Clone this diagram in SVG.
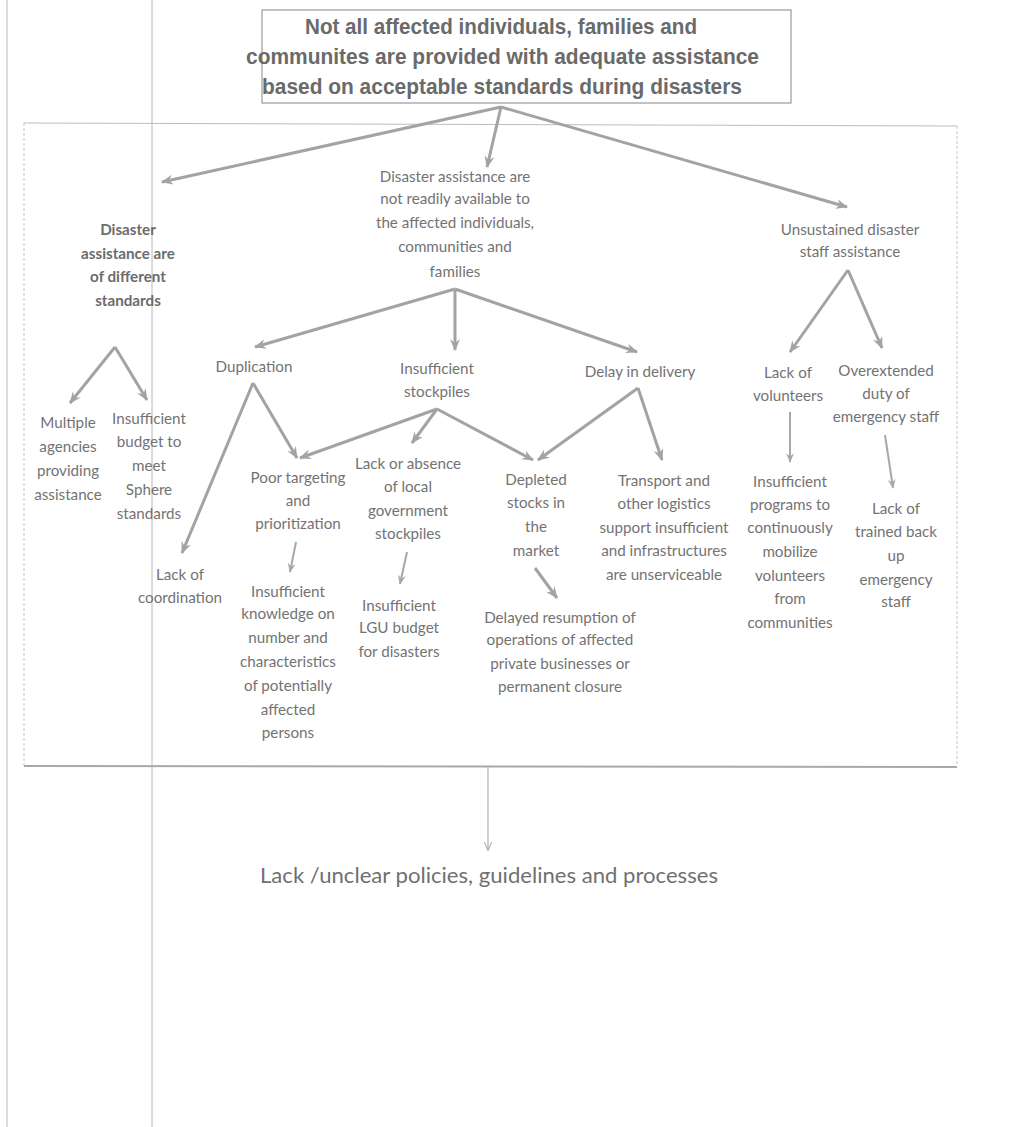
<svg xmlns="http://www.w3.org/2000/svg" width="1019" height="1127" viewBox="0 0 1019 1127">
<defs>
<style>
.t{font-family:Lato,"Liberation Sans",sans-serif;font-size:15.2px;fill:#737373;text-anchor:middle}
.b{font-weight:bold;fill:#6c6c6c}
.title{font-family:"Liberation Sans",Arial,sans-serif;font-size:22px;font-weight:bold;fill:#6a6a6a}
.bot{font-family:Lato,"Liberation Sans",sans-serif;font-size:22px;fill:#707070}
.a{stroke:#a3a3a3;stroke-width:3;fill:none;marker-end:url(#ah)}
.a2{stroke:#a8a8a8;stroke-width:2;fill:none;marker-end:url(#ah2)}
.a1{stroke:#b0b0b0;stroke-width:1.2;fill:none;marker-end:url(#ah3)}
</style>
<marker id="ah" viewBox="0 0 12 10" refX="11" refY="5" markerWidth="12" markerHeight="10" markerUnits="userSpaceOnUse" orient="auto"><path d="M0,0 L12,5 L0,10 L4,5 Z" fill="#a3a3a3"/></marker>
<marker id="ah2" viewBox="0 0 12 10" refX="11" refY="5" markerWidth="10" markerHeight="8" markerUnits="userSpaceOnUse" orient="auto"><path d="M0,0 L12,5 L0,10 L4,5 Z" fill="#a8a8a8"/></marker>
<marker id="ah3" viewBox="0 0 12 10" refX="11" refY="5" markerWidth="9" markerHeight="8" markerUnits="userSpaceOnUse" orient="auto"><path d="M0,0 L12,5 L0,10" fill="none" stroke="#b0b0b0" stroke-width="1.5"/></marker>
</defs>
<rect width="1019" height="1127" fill="#fff"/>
<g id="page-lines" stroke="#b8b8b8" stroke-width="1">
<line x1="7" y1="0" x2="7" y2="1127"/>
<line x1="152" y1="0" x2="152" y2="1127"/>
</g>
<g id="frame">
<path d="M24,123 L957,126" stroke="#bdbdbd" stroke-width="1" fill="none"/>
<path d="M24,123 L24,766" stroke="#c4c4c4" stroke-width="1" stroke-dasharray="3,2" fill="none"/>
<path d="M957,126 L957,766" stroke="#c4c4c4" stroke-width="1" stroke-dasharray="3,2" fill="none"/>
<path d="M24,766 L957,767" stroke="#a8a8a8" stroke-width="2" fill="none"/>
</g>
<g id="connectors">
<path class="a" d="M501,107 L162,182"/>
<path class="a" d="M501,107 L487,167"/>
<path class="a" d="M501,107 L847,207"/>
<path class="a" d="M115,347 L70,403"/>
<path class="a" d="M115,347 L147,400"/>
<path class="a" d="M455,289 L255,347"/>
<path class="a" d="M455,289 L455,350"/>
<path class="a" d="M455,289 L637,352"/>
<path class="a" d="M848,270 L790,352"/>
<path class="a" d="M848,270 L882,348"/>
<path class="a" d="M253,383 L297,458"/>
<path class="a" d="M253,383 L182,553"/>
<path class="a" d="M437,409 L300,458"/>
<path class="a" d="M437,409 L412,443"/>
<path class="a" d="M437,409 L533,460"/>
<path class="a" d="M638,388 L538,460"/>
<path class="a" d="M638,388 L662,460"/>
<path class="a2" d="M296,542 L290,572"/>
<path class="a2" d="M407,552 L400,584"/>
<path class="a" d="M535,568 L557,598"/>
<path class="a2" d="M790,412 L790,462"/>
<path class="a2" d="M885,435 L893,488"/>
<path class="a1" d="M488,767 L488,850"/>
</g>
<g id="n-root">
<rect x="262" y="10" width="529" height="93" fill="none" stroke="#9a9a9a" stroke-width="1.2"/>
<text class="title" x="305" y="34" textLength="392" lengthAdjust="spacingAndGlyphs">Not all affected individuals, families and</text>
<text class="title" x="246" y="64" textLength="513" lengthAdjust="spacingAndGlyphs">communites are provided with adequate assistance</text>
<text class="title" x="262" y="94" textLength="480" lengthAdjust="spacingAndGlyphs">based on acceptable standards during disasters</text>
</g>
<g id="n-standards"><text class="t b"><tspan x="128" y="235">Disaster</tspan><tspan x="128" y="259">assistance are</tspan><tspan x="128" y="282">of different</tspan><tspan x="128" y="306">standards</tspan></text></g>
<g id="n-availability"><text class="t"><tspan x="455" y="182">Disaster assistance  are</tspan><tspan x="455" y="204">not readily available to</tspan><tspan x="455" y="228">the affected individuals,</tspan><tspan x="455" y="252">communities and</tspan><tspan x="455" y="277">families</tspan></text></g>
<g id="n-staff"><text class="t"><tspan x="850" y="235">Unsustained disaster</tspan><tspan x="850" y="257">staff assistance</tspan></text></g>
<g id="n-multiple"><text class="t"><tspan x="68" y="428">Multiple</tspan><tspan x="68" y="452">agencies</tspan><tspan x="68" y="476">providing</tspan><tspan x="68" y="500">assistance</tspan></text></g>
<g id="n-budget"><text class="t"><tspan x="149" y="424">Insufficient</tspan><tspan x="149" y="447">budget to</tspan><tspan x="149" y="471">meet</tspan><tspan x="149" y="495">Sphere</tspan><tspan x="149" y="519">standards</tspan></text></g>
<g id="n-duplication"><text class="t"><tspan x="254" y="372">Duplication</tspan></text></g>
<g id="n-stockpiles"><text class="t"><tspan x="437" y="374">Insufficient</tspan><tspan x="437" y="397">stockpiles</tspan></text></g>
<g id="n-delay"><text class="t"><tspan x="640" y="377">Delay in delivery</tspan></text></g>
<g id="n-volunteers"><text class="t"><tspan x="788" y="378">Lack of</tspan><tspan x="788" y="401">volunteers</tspan></text></g>
<g id="n-overextended"><text class="t"><tspan x="886" y="376">Overextended</tspan><tspan x="886" y="399">duty of</tspan><tspan x="886" y="422">emergency staff</tspan></text></g>
<g id="n-coordination"><text class="t"><tspan x="180" y="580">Lack of</tspan><tspan x="180" y="603">coordination</tspan></text></g>
<g id="n-targeting"><text class="t"><tspan x="298" y="483">Poor targeting</tspan><tspan x="298" y="506">and</tspan><tspan x="298" y="529">prioritization</tspan></text></g>
<g id="n-local"><text class="t"><tspan x="408" y="469">Lack or absence</tspan><tspan x="408" y="492">of local</tspan><tspan x="408" y="516">government</tspan><tspan x="408" y="539">stockpiles</tspan></text></g>
<g id="n-depleted"><text class="t"><tspan x="536" y="485">Depleted</tspan><tspan x="536" y="508">stocks in</tspan><tspan x="536" y="532">the</tspan><tspan x="536" y="556">market</tspan></text></g>
<g id="n-transport"><text class="t"><tspan x="664" y="486">Transport and</tspan><tspan x="664" y="509">other logistics</tspan><tspan x="664" y="533">support insufficient</tspan><tspan x="664" y="556">and infrastructures</tspan><tspan x="664" y="580">are unserviceable</tspan></text></g>
<g id="n-programs"><text class="t"><tspan x="790" y="487">Insufficient</tspan><tspan x="790" y="510">programs to</tspan><tspan x="790" y="533">continuously</tspan><tspan x="790" y="557">mobilize</tspan><tspan x="790" y="581">volunteers</tspan><tspan x="790" y="604">from</tspan><tspan x="790" y="628">communities</tspan></text></g>
<g id="n-backup"><text class="t"><tspan x="896" y="514">Lack of</tspan><tspan x="896" y="537">trained back</tspan><tspan x="896" y="561">up</tspan><tspan x="896" y="585">emergency</tspan><tspan x="896" y="607">staff</tspan></text></g>
<g id="n-knowledge"><text class="t"><tspan x="288" y="597">Insufficient</tspan><tspan x="288" y="619">knowledge on</tspan><tspan x="288" y="643">number and</tspan><tspan x="288" y="667">characteristics</tspan><tspan x="288" y="691">of  potentially</tspan><tspan x="288" y="715">affected</tspan><tspan x="288" y="738">persons</tspan></text></g>
<g id="n-lgu"><text class="t"><tspan x="399" y="611">Insufficient</tspan><tspan x="399" y="633">LGU budget</tspan><tspan x="399" y="657">for disasters</tspan></text></g>
<g id="n-resumption"><text class="t"><tspan x="560" y="623">Delayed resumption of</tspan><tspan x="560" y="645">operations of affected</tspan><tspan x="560" y="669">private businesses or</tspan><tspan x="560" y="692">permanent closure</tspan></text></g>
<g id="n-policies"><text class="bot" x="260" y="883" textLength="458" lengthAdjust="spacingAndGlyphs">Lack /unclear policies, guidelines and processes</text></g>
</svg>
